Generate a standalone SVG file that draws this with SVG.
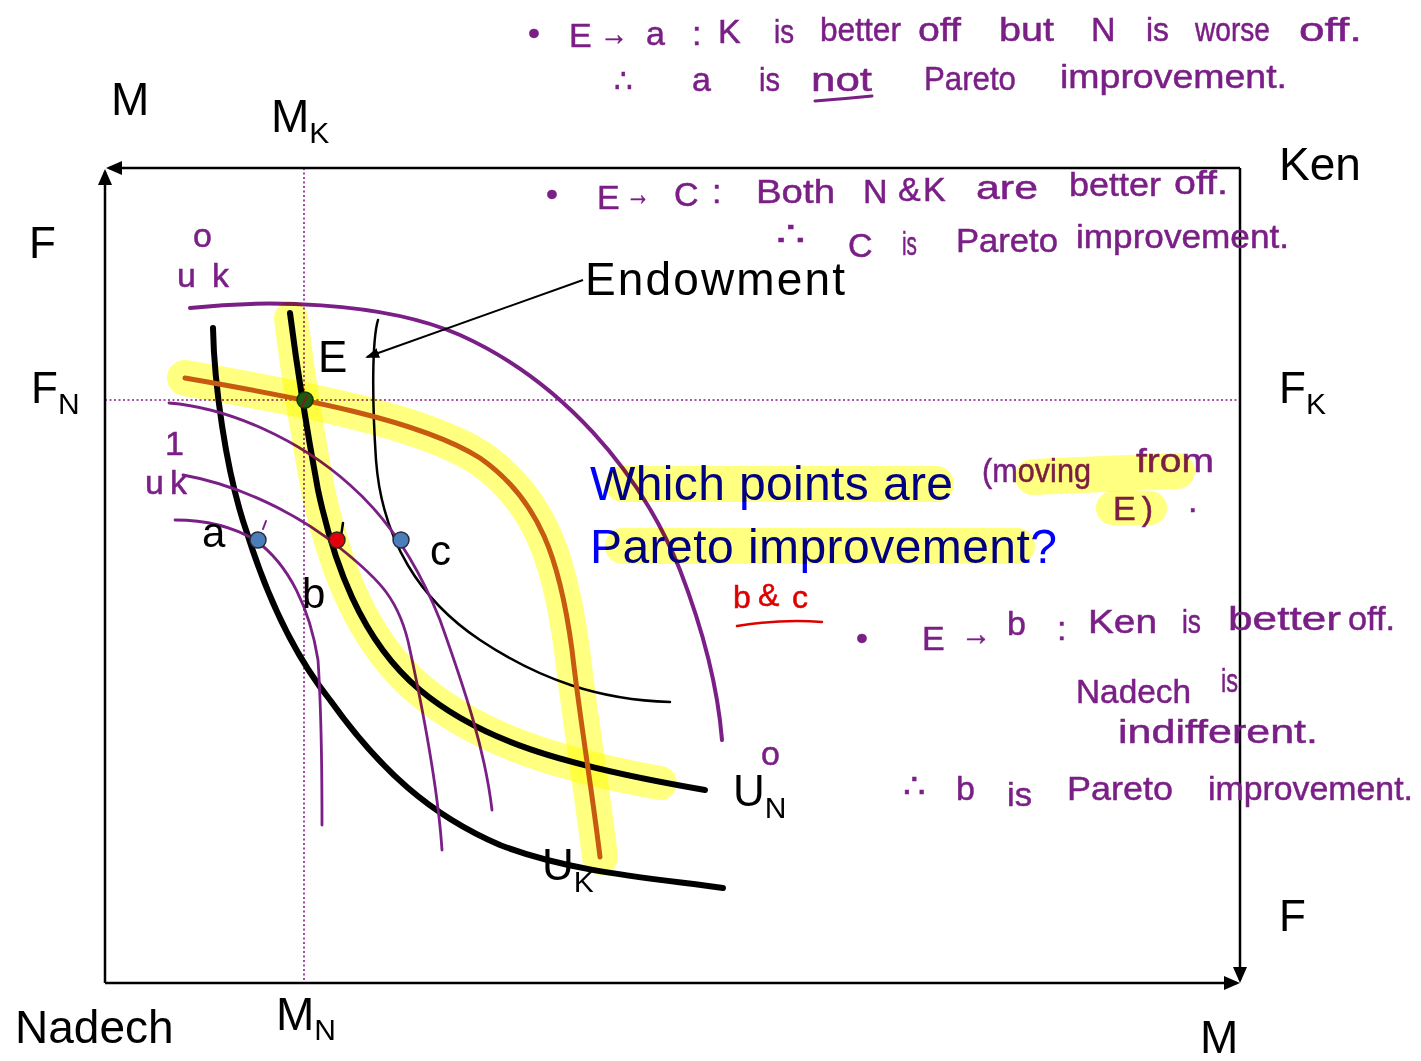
<svg xmlns="http://www.w3.org/2000/svg" width="1421" height="1061" viewBox="0 0 1421 1061">
<defs>
<style>
.ax{stroke:#000;stroke-width:2.5;fill:none}
.dt{stroke:#8b1a8b;stroke-width:1.6;stroke-dasharray:2 2.5;fill:none}
.thick{stroke:#000;stroke-width:6;fill:none;stroke-linecap:round}
.thin{stroke:#000;stroke-width:2.5;fill:none;stroke-linecap:round}
.pur{stroke:#7a1f86;fill:none;stroke-linecap:round;stroke-linejoin:round}
.hl{stroke:#ffff80;fill:none;stroke-linecap:round;stroke-linejoin:round;mix-blend-mode:multiply}
.lbl{font-family:"Liberation Sans",Arial,sans-serif;fill:#000}
.hw{font-family:"Liberation Sans",Arial,sans-serif;fill:#7a1f86;stroke:#7a1f86;stroke-width:0.5;font-size:34px}
.red{font-family:"Liberation Sans",Arial,sans-serif;fill:#dd0000;stroke:#dd0000;stroke-width:0.5;font-size:32px}
.blue{font-family:"Liberation Sans",Arial,sans-serif;fill:#0000ff;font-size:48px}
</style>
<marker id="ah" viewBox="0 0 16 14" refX="13" refY="7" markerWidth="16" markerHeight="14" markerUnits="userSpaceOnUse" orient="auto">
<path d="M0,0 L16,7 L0,14 z" fill="#000"/>
</marker>
<marker id="ah2" viewBox="0 0 14 10" refX="12" refY="5" markerWidth="14" markerHeight="10" markerUnits="userSpaceOnUse" orient="auto">
<path d="M0,0 L14,5 L0,10 z" fill="#000"/>
</marker>
</defs>
<rect width="1421" height="1061" fill="#fff"/>

<g id="guides">
<line class="dt" x1="304" y1="168" x2="304" y2="983"/>
<line class="dt" x1="105" y1="400" x2="1240" y2="400"/>
</g>

<g id="axes">
<path class="ax" d="M105,983 L105,172" marker-end="url(#ah)"/>
<path class="ax" d="M105,983 L1237,983" marker-end="url(#ah)"/>
<path class="ax" d="M1240,168 L109,168" marker-end="url(#ah)"/>
<path class="ax" d="M1240,168 L1240,980" marker-end="url(#ah)"/>
</g>

<g id="axis-labels" class="lbl">
<text x="111" y="115" font-size="46">M</text>
<text x="271" y="132" font-size="46">M<tspan font-size="30" dy="11">K</tspan></text>
<text x="1279" y="180" font-size="46">Ken</text>
<text x="29" y="258" font-size="44">F</text>
<text x="31" y="403" font-size="44">F<tspan font-size="30" dy="11">N</tspan></text>
<text x="1279" y="403" font-size="44">F<tspan font-size="30" dy="11">K</tspan></text>
<text x="1279" y="931" font-size="44">F</text>
<text x="1200" y="1053" font-size="46">M</text>
<text x="15" y="1043" font-size="46">Nadech</text>
<text x="276" y="1030" font-size="46">M<tspan font-size="30" dy="10">N</tspan></text>
</g>

<g id="curves">
<path id="curve-UK" class="thick" d="M213,328 C214,380 225,470 247,533 C265,590 290,650 330,700 C380,770 430,815 500,845 C570,872 650,878 723,888"/>
<path id="curve-UN0" class="thick" d="M290,313 C296,360 305,420 318,490 C333,560 360,640 420,690 C480,740 560,765 705,790"/>
<path id="curve-c" class="thin" d="M378,320 C372,340 372,400 376,460 C382,540 420,600 480,640 C540,680 600,700 670,702"/>
<path id="curve-ken-E" stroke="#c55a20" stroke-width="5" fill="none" stroke-linecap="round" d="M185,378 C300,398 420,420 480,458 C540,500 560,560 572,650 C580,720 592,790 600,857"/>
<path id="curve-uk0" class="pur" stroke-width="4" d="M190,308 C260,300 380,300 460,335 C560,380 640,470 680,570 C705,635 718,690 722,740"/>
<path id="curve-pc" class="pur" stroke-width="2.8" d="M169,403 C230,408 300,440 350,485 C390,520 420,570 440,620 C465,690 485,750 492,810"/>
<path id="curve-pb" class="pur" stroke-width="2.8" d="M183,475 C240,485 300,515 340,548 C380,580 400,600 410,650 C425,720 438,790 442,850"/>
<path id="curve-pa" class="pur" stroke-width="2.8" d="M175,520 C210,520 235,528 255,540 C290,565 310,610 318,660 C322,720 322,780 322,825"/>
<path class="pur" stroke-width="2" d="M266,521 L263,529"/>
<path class="thin" stroke-width="2" d="M343,523 L341,536"/>
</g>

<g id="connectors">
<path d="M583,280 L367,357" stroke="#000" stroke-width="2" fill="none" marker-end="url(#ah2)"/>
</g>

<g id="node-E">
<circle cx="305" cy="400" r="8" fill="#1d5c3a" stroke="#0d3d22" stroke-width="1.5"/>
<path class="pur" stroke-width="2" d="M307,396 L302,406"/>
<text class="lbl" x="318" y="372" font-size="44">E</text>
</g>
<g id="node-a">
<circle cx="258" cy="540" r="8" fill="#4a7ebb" stroke="#2a2a3a" stroke-width="1.5"/>
<text class="lbl" x="202" y="547" font-size="42">a</text>
</g>
<g id="node-b">
<circle cx="337" cy="540" r="8" fill="#e0001b" stroke="#2a2a3a" stroke-width="1.5"/>
<text class="lbl" x="302" y="608" font-size="42">b</text>
</g>
<g id="node-c">
<circle cx="401" cy="540" r="8" fill="#4a7ebb" stroke="#2a2a3a" stroke-width="1.5"/>
<text class="lbl" x="430" y="565" font-size="42">c</text>
</g>
<g id="node-endowment">
<text class="lbl" x="585" y="295" font-size="46" textLength="260">Endowment</text>
</g>
<g id="node-UN">
<text class="lbl" x="733" y="806" font-size="44">U<tspan font-size="30" dy="12">N</tspan></text>
<text class="hw" x="761" y="765" font-size="20">o</text>
</g>
<g id="node-UK">
<text class="lbl" x="542" y="880" font-size="44">U<tspan font-size="30" dy="12">K</tspan></text>
</g>
<g id="node-uk-labels">
<text class="hw" x="193" y="247" font-size="22">o</text>
<text class="hw" x="177" y="287" font-size="38" textLength="52" lengthAdjust="spacing">uk</text>
<text class="hw" x="165" y="455" font-size="14">1</text>
<text class="hw" x="145" y="494" font-size="34" textLength="42" lengthAdjust="spacing">uk</text>
</g>

<g id="question">
<text class="blue" x="590" y="500" textLength="363">Which points are</text>
<text class="blue" x="590" y="563" textLength="467">Pareto improvement?</text>
<text class="hw" x="982" y="482" font-size="30" textLength="109" lengthAdjust="spacingAndGlyphs">(moving</text>
<text class="hw" x="1136" y="472" font-size="30" textLength="78" lengthAdjust="spacingAndGlyphs">from</text>
<text class="hw" x="1113" y="520" font-size="28" textLength="40" lengthAdjust="spacing">E)</text>
<text class="hw" x="1188" y="512" font-size="28">.</text>
</g>

<g id="answer">
<text class="red" x="733" y="608">b</text>
<text class="red" x="758" y="606" font-size="18">&amp;</text>
<text class="red" x="792" y="608">c</text>
<path d="M737,626 Q780,619 822,622" stroke="#dd0000" stroke-width="2.5" fill="none" stroke-linecap="round"/>
</g>

<g id="note-a">
<text class="hw" x="528" y="45" font-size="26">•</text>
<text class="hw" x="569" y="47">E</text>
<text class="hw" x="600" y="45" textLength="28" lengthAdjust="spacingAndGlyphs">→</text>
<text class="hw" x="646" y="45">a</text>
<text class="hw" x="692" y="45">:</text>
<text class="hw" x="718" y="43">K</text>
<text class="hw" x="774" y="43" textLength="20" lengthAdjust="spacingAndGlyphs">is</text>
<text class="hw" x="820" y="41" textLength="81" lengthAdjust="spacingAndGlyphs">better</text>
<text class="hw" x="918" y="41" textLength="43" lengthAdjust="spacingAndGlyphs">off</text>
<text class="hw" x="999" y="41" textLength="55" lengthAdjust="spacingAndGlyphs">but</text>
<text class="hw" x="1091" y="41">N</text>
<text class="hw" x="1146" y="41" textLength="23" lengthAdjust="spacingAndGlyphs">is</text>
<text class="hw" x="1195" y="41" textLength="75" lengthAdjust="spacingAndGlyphs">worse</text>
<text class="hw" x="1299" y="41" textLength="63" lengthAdjust="spacingAndGlyphs">off.</text>
<text class="hw" x="614" y="93" textLength="19" lengthAdjust="spacingAndGlyphs">∴</text>
<text class="hw" x="692" y="91">a</text>
<text class="hw" x="759" y="91" textLength="21" lengthAdjust="spacingAndGlyphs">is</text>
<text class="hw" x="811" y="91" textLength="61" lengthAdjust="spacingAndGlyphs">not</text>
<text class="hw" x="924" y="90" textLength="92" lengthAdjust="spacingAndGlyphs">Pareto</text>
<text class="hw" x="1060" y="88" textLength="227" lengthAdjust="spacingAndGlyphs">improvement.</text>
<path class="pur" stroke-width="3" d="M815,101 Q842,99 872,96"/>
</g>

<g id="note-c">
<text class="hw" x="546" y="206" font-size="26">•</text>
<text class="hw" x="597" y="209">E</text>
<text class="hw" x="626" y="205" textLength="24" lengthAdjust="spacingAndGlyphs">→</text>
<text class="hw" x="674" y="206">C</text>
<text class="hw" x="712" y="203">:</text>
<text class="hw" x="756" y="203" textLength="79" lengthAdjust="spacingAndGlyphs">Both</text>
<text class="hw" x="863" y="203">N</text>
<text class="hw" x="898" y="201" font-size="18">&amp;</text>
<text class="hw" x="923" y="201">K</text>
<text class="hw" x="976" y="199" textLength="62" lengthAdjust="spacingAndGlyphs">are</text>
<text class="hw" x="1069" y="196" textLength="92" lengthAdjust="spacingAndGlyphs">better</text>
<text class="hw" x="1174" y="194" textLength="54" lengthAdjust="spacingAndGlyphs">off.</text>
<text class="hw" x="776" y="246" font-size="28" textLength="30" lengthAdjust="spacingAndGlyphs">∴</text>
<text class="hw" x="848" y="257">C</text>
<text class="hw" x="902" y="255" textLength="15" lengthAdjust="spacingAndGlyphs">is</text>
<text class="hw" x="956" y="252" textLength="102" lengthAdjust="spacingAndGlyphs">Pareto</text>
<text class="hw" x="1076" y="248" textLength="213" lengthAdjust="spacingAndGlyphs">improvement.</text>
</g>

<g id="note-b">
<text class="hw" x="856" y="650" font-size="26">•</text>
<text class="hw" x="922" y="650">E</text>
<text class="hw" x="961" y="645" textLength="30" lengthAdjust="spacingAndGlyphs">→</text>
<text class="hw" x="1007" y="635">b</text>
<text class="hw" x="1057" y="640">:</text>
<text class="hw" x="1088" y="633" textLength="69" lengthAdjust="spacingAndGlyphs">Ken</text>
<text class="hw" x="1182" y="633" textLength="19" lengthAdjust="spacingAndGlyphs">is</text>
<text class="hw" x="1228" y="630" textLength="113" lengthAdjust="spacingAndGlyphs">better</text>
<text class="hw" x="1348" y="630" textLength="47" lengthAdjust="spacingAndGlyphs">off.</text>
<text class="hw" x="1076" y="703" textLength="115" lengthAdjust="spacingAndGlyphs">Nadech</text>
<text class="hw" x="1221" y="692" textLength="17" lengthAdjust="spacingAndGlyphs">is</text>
<text class="hw" x="1118" y="743" textLength="200" lengthAdjust="spacingAndGlyphs">indifferent.</text>
<text class="hw" x="903" y="798" textLength="23" lengthAdjust="spacingAndGlyphs">∴</text>
<text class="hw" x="956" y="800">b</text>
<text class="hw" x="1007" y="806" textLength="25" lengthAdjust="spacingAndGlyphs">is</text>
<text class="hw" x="1067" y="800" textLength="106" lengthAdjust="spacingAndGlyphs">Pareto</text>
<text class="hw" x="1208" y="800" textLength="205" lengthAdjust="spacingAndGlyphs">improvement.</text>
</g>

<g id="highlights">
<path class="hl" stroke-width="36" d="M185,378 C300,398 420,420 480,458 C540,500 560,560 572,650 C580,720 592,790 600,857"/>
<path class="hl" stroke-width="34" d="M291,318 C296,360 305,420 318,490 C333,560 360,640 420,690 C480,740 560,765 660,783"/>
<path class="hl" stroke-width="36" d="M623,484 L936,484"/>
<path class="hl" stroke-width="36" d="M623,546 L1017,546"/>
<path class="hl" stroke-width="36" d="M1033,477 L1177,471"/>
<path class="hl" stroke-width="34" d="M1113,508 L1150,508"/>
</g>
</svg>
